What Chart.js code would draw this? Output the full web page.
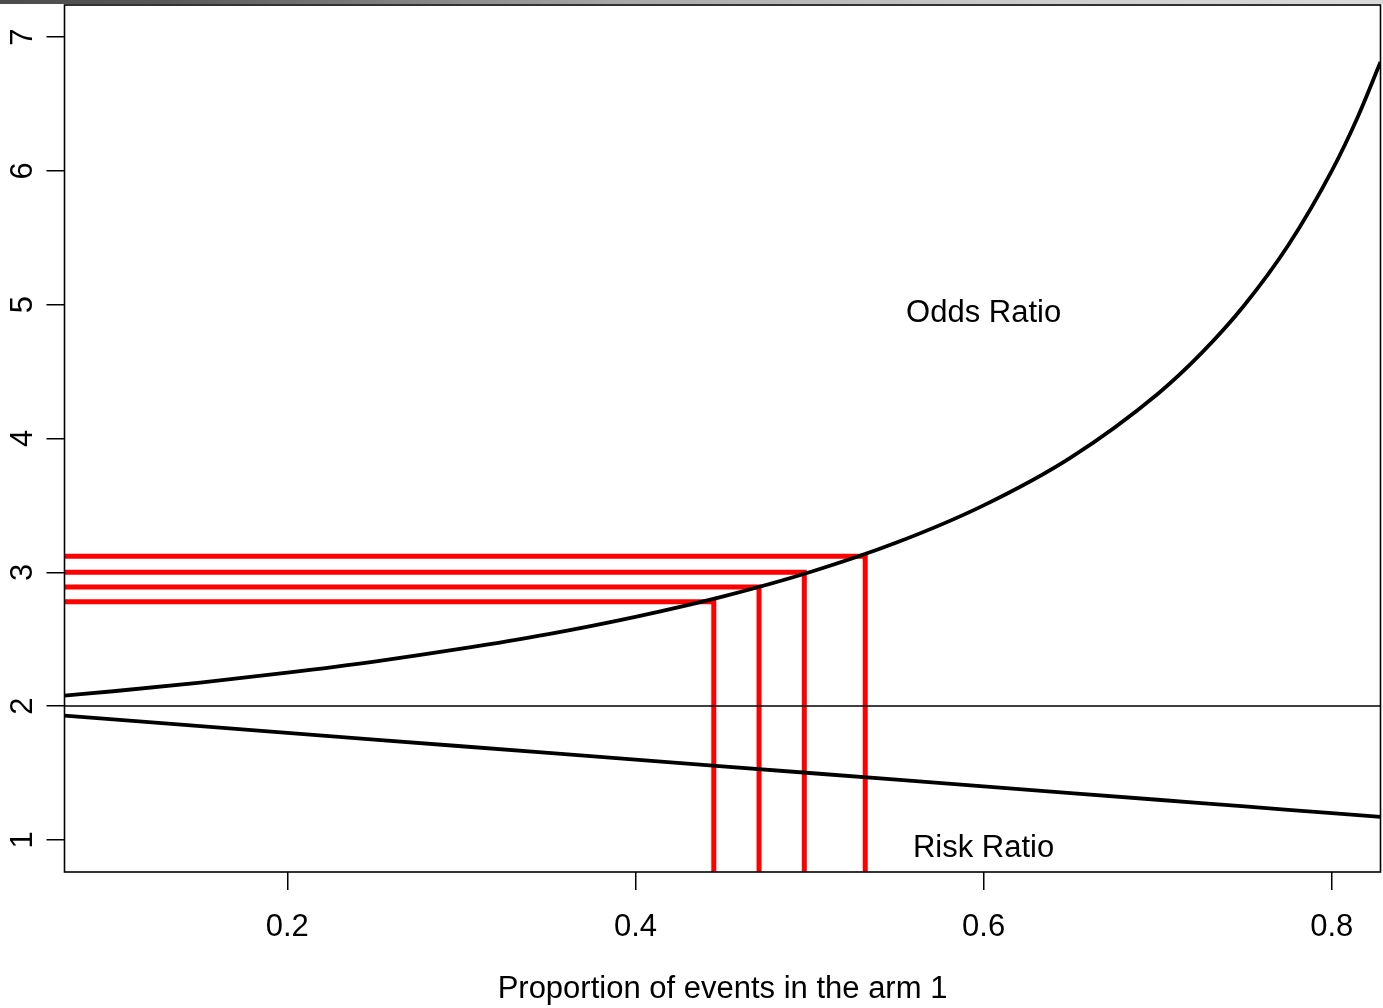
<!DOCTYPE html>
<html lang="en">
<head>
<meta charset="UTF-8">
<title>Odds ratio and risk ratio</title>
<script src="https://cdn.jsdelivr.net/npm/chart.js"></script>
<style>
  body { margin: 0; background: #ffffff; }
  .frame { position: relative; width: 1383px; height: 1008px; }
  .topbar {
    position: absolute; left: 0; top: 0; width: 1383px; height: 4px;
    background: linear-gradient(to right, #4b4b4b 0%, #585858 12%, #a8a8a8 45%, #cdcdcd 75%, #dadada 100%);
  }
  canvas { display: block; }
</style>
</head>
<body>
<div class="frame">
  <canvas id="ratioChart" width="1383" height="1008"></canvas>
  <div class="topbar"></div>
</div>
<script>
// proportion of events in arm 1 and the two ratios along it
const proportion = [0.072, 0.1, 0.15, 0.2, 0.25, 0.3, 0.35, 0.4, 0.45, 0.5, 0.55, 0.6, 0.65, 0.7, 0.725, 0.75, 0.775, 0.8, 0.815, 0.828];
const oddsRatio  = [2.078, 2.111, 2.176, 2.25, 2.333, 2.429, 2.538, 2.667, 2.818, 3.0, 3.222, 3.5, 3.857, 4.333, 4.636, 5.0, 5.444, 6.0, 6.405, 6.814];
const riskRatio  = [1.928, 1.9, 1.85, 1.8, 1.75, 1.7, 1.65, 1.6, 1.55, 1.5, 1.45, 1.4, 1.35, 1.3, 1.275, 1.25, 1.225, 1.2, 1.185, 1.172];

// reference level
const refLevel = 2;

// red guide lines: where each odds ratio is reached
const markProportion = [0.445, 0.471, 0.497, 0.532];
const markOdds       = [2.78, 2.89, 3.0, 3.12];

// axis ticks
const xTicks = [0.2, 0.4, 0.6, 0.8];
const xTickLabels = ['0.2', '0.4', '0.6', '0.8'];
const yTicks = [1, 2, 3, 4, 5, 6, 7];
const yTickLabels = ['1', '2', '3', '4', '5', '6', '7'];

// curve labels (data coordinates)
const curveLabels = ['Odds Ratio', 'Risk Ratio'];
const curveLabelX = [0.6, 0.6];
const curveLabelY = [4.935, 0.935];

const FONT = '"Liberation Sans", Arial, Helvetica, sans-serif';
Chart.defaults.font.family = FONT;
Chart.defaults.color = '#000';

const toPoints = (xs, ys) => xs.map((v, i) => ({ x: v, y: ys[i] }));

const datasets = [
  {
    data: toPoints(proportion, oddsRatio),
    borderColor: '#000', borderWidth: 3.8,
    cubicInterpolationMode: 'monotone', clip: 0
  },
  {
    data: toPoints(proportion, riskRatio),
    borderColor: '#000', borderWidth: 3.8, clip: 0
  },
  {
    data: [{ x: 0, y: refLevel }, { x: 1, y: refLevel }],
    borderColor: '#000', borderWidth: 1.5, clip: 0
  }
];

markProportion.forEach((p, i) => {
  datasets.push({
    data: [{ x: 0, y: markOdds[i] }, { x: p, y: markOdds[i] }, { x: p, y: 0 }],
    borderColor: '#ff0000', borderWidth: 5, borderJoinStyle: 'miter', clip: 0
  });
});

// box around the plot, rotated y labels and curve names
const framePlugin = {
  id: 'frame',
  afterDraw(chart) {
    const { ctx, chartArea: a, scales: { x, y } } = chart;
    ctx.save();
    ctx.strokeStyle = '#000';
    ctx.lineWidth = 1.6;
    ctx.strokeRect(a.left, a.top, a.right - a.left, a.bottom - a.top);

    ctx.fillStyle = '#000';
    ctx.font = '31px ' + FONT;
    ctx.textAlign = 'center';
    ctx.textBaseline = 'middle';
    curveLabels.forEach((t, i) => {
      ctx.fillText(t, x.getPixelForValue(curveLabelX[i]), y.getPixelForValue(curveLabelY[i]));
    });

    yTicks.forEach((v, i) => {
      ctx.save();
      ctx.translate(a.left - 41.5, y.getPixelForValue(v));
      ctx.rotate(-Math.PI / 2);
      ctx.fillText(yTickLabels[i], 0, 0);
      ctx.restore();
    });
    ctx.restore();
  }
};

new Chart(document.getElementById('ratioChart'), {
  type: 'line',
  data: { datasets },
  plugins: [framePlugin],
  options: {
    responsive: false,
    animation: false,
    devicePixelRatio: 1,
    layout: { padding: { top: 5, right: 2.5, left: 0, bottom: 0 } },
    plugins: { legend: { display: false }, tooltip: { enabled: false } },
    elements: { point: { radius: 0 }, line: { tension: 0 } },
    scales: {
      x: {
        type: 'linear',
        min: 0.072,
        max: 0.828,
        afterBuildTicks: s => { s.ticks = xTicks.map(v => ({ value: v })); },
        afterFit: s => { s.height = 136; },
        grid: { drawOnChartArea: false, color: '#000', lineWidth: 1.5, tickLength: 18, tickWidth: 1.5 },
        border: { display: false },
        ticks: {
          color: '#000', font: { size: 31 }, padding: 19, maxRotation: 0, autoSkip: false,
          callback: (v, i) => xTickLabels[i]
        },
        title: {
          display: true,
          text: 'Proportion of events in the arm 1',
          color: '#000',
          font: { size: 31 },
          padding: { top: 0, bottom: 0 }
        }
      },
      y: {
        type: 'linear',
        min: 0.76,
        max: 7.24,
        afterBuildTicks: s => { s.ticks = yTicks.map(v => ({ value: v })); },
        afterFit: s => { s.width = 64.5; },
        grid: { drawOnChartArea: false, color: '#000', lineWidth: 1.5, tickLength: 18, tickWidth: 1.5 },
        border: { display: false },
        ticks: { display: false }
      }
    }
  }
});
</script>
</body>
</html>
